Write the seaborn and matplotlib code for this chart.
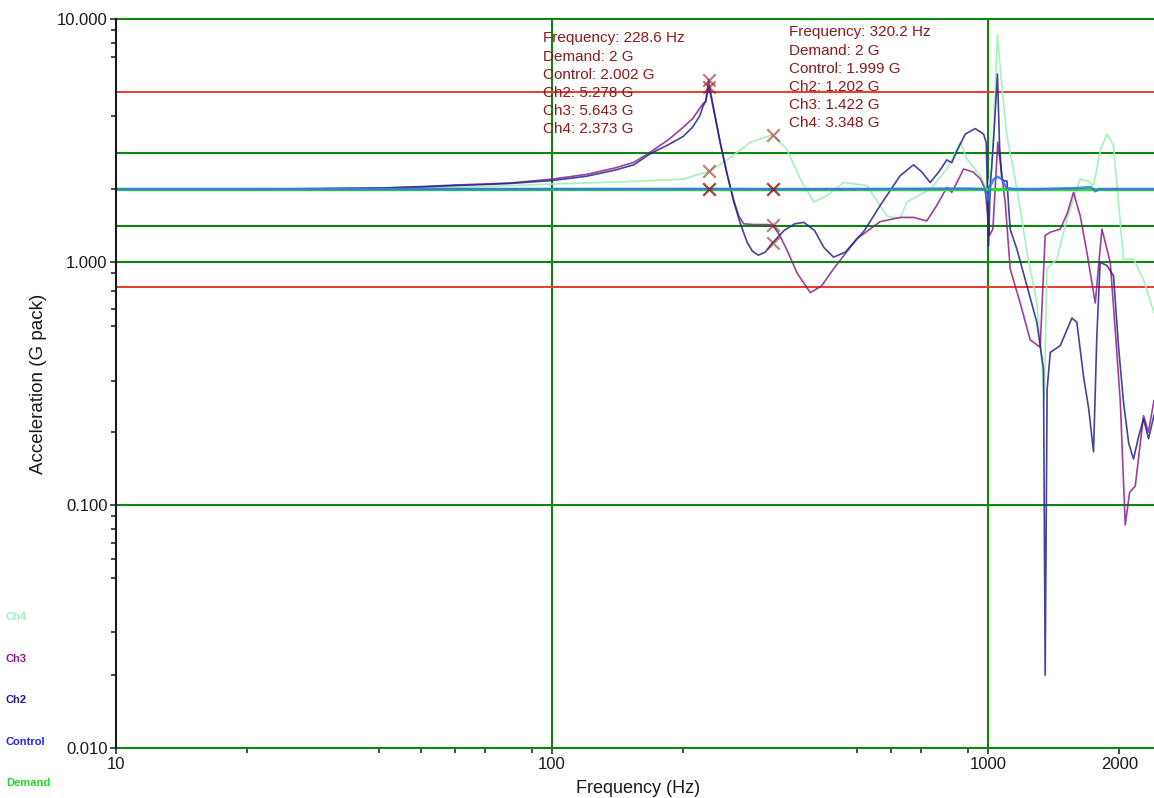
import matplotlib
matplotlib.use("Agg")
import matplotlib.pyplot as plt
import seaborn as sns
from matplotlib.ticker import FixedLocator, FixedFormatter, NullFormatter

# ---- sine sweep response: frequency (Hz) vs acceleration (G pack) ----
demand_freq = [10, 2400]
demand_g = [2.0, 2.0]

control_freq = [10, 100, 228.6, 320.2, 500, 900, 980, 995, 1002, 1010, 1030, 1050,
                1075, 1100, 1150, 1300, 1600, 1720, 1760, 1800, 2400]
control_g = [2.0, 2.0, 2.002, 1.999, 2.0, 2.01, 2.0, 1.9, 1.8, 2.05, 2.2, 2.25,
             2.2, 2.02, 2.0, 2.0, 2.02, 2.04, 1.96, 2.0, 2.0]

ch2_freq = [10, 20, 30, 40, 50, 60, 70, 80, 100, 120, 140, 154, 168, 185, 200, 210,
            218, 222, 225, 228.6, 232, 237, 243, 252, 261, 270, 280, 288, 297, 308,
            320.2, 340, 360, 378, 400, 420, 442, 470, 520, 565, 628, 674, 705, 736,
            770, 804, 825, 850, 886, 934, 976, 990, 1002, 1010, 1030, 1050, 1062,
            1075, 1090, 1104, 1123, 1164, 1227, 1293, 1339, 1351, 1365, 1388, 1463,
            1556, 1597, 1654, 1700, 1744, 1775, 1806, 1872, 1938, 1990, 2043, 2100,
            2154, 2210, 2271, 2332, 2400]
ch2_g = [2.0, 2.0, 2.01, 2.02, 2.04, 2.07, 2.09, 2.11, 2.17, 2.26, 2.4, 2.52, 2.8,
         3.05, 3.3, 3.6, 4.0, 4.4, 4.6, 5.278, 4.7, 3.9, 3.1, 2.3, 1.77, 1.45, 1.21,
         1.11, 1.07, 1.1, 1.202, 1.35, 1.44, 1.46, 1.35, 1.15, 1.05, 1.1, 1.35, 1.71,
         2.27, 2.52, 2.35, 2.13, 2.35, 2.64, 2.57, 2.9, 3.37, 3.55, 3.37, 3.1, 1.17,
         2.0, 3.3, 5.96, 3.0, 2.2, 2.16, 2.16, 1.37, 1.13, 0.80, 0.566, 0.364, 0.02,
         0.3, 0.426, 0.454, 0.59, 0.566, 0.34, 0.25, 0.166, 0.5, 1.0, 0.97, 0.88,
         0.45, 0.266, 0.18, 0.155, 0.19, 0.227, 0.188, 0.235]

ch3_freq = [10, 20, 30, 40, 50, 60, 70, 80, 100, 120, 140, 154, 168, 185, 200, 210,
            218, 222, 225, 228.6, 232, 237, 243, 252, 261, 268, 275, 290, 311, 320.2,
            332, 345, 365, 391, 415, 442, 500, 565, 628, 674, 723, 760, 804, 825, 850,
            878, 925, 960, 984, 1007, 1025, 1052, 1075, 1094, 1123, 1184, 1248, 1316,
            1351, 1388, 1463, 1520, 1569, 1626, 1684, 1760, 1823, 1905, 1960, 2009,
            2062, 2110, 2174, 2271, 2330, 2400]
ch3_g = [2.0, 2.0, 2.01, 2.02, 2.05, 2.08, 2.1, 2.12, 2.2, 2.3, 2.45, 2.58, 2.84,
         3.2, 3.6, 3.9, 4.3, 4.5, 4.6, 5.643, 4.8, 3.9, 3.1, 2.3, 1.8, 1.55, 1.44,
         1.43, 1.43, 1.422, 1.3, 1.13, 0.9, 0.75, 0.8, 0.94, 1.25, 1.47, 1.53, 1.53,
         1.48, 1.7, 2.03, 1.94, 2.15, 2.42, 2.35, 2.2, 2.0, 1.29, 1.37, 3.12, 2.27,
         1.77, 0.94, 0.68, 0.48, 0.447, 1.29, 1.33, 1.37, 1.6, 1.94, 1.55, 1.10,
         0.68, 1.37, 1.0, 0.5, 0.266, 0.083, 0.113, 0.12, 0.234, 0.2, 0.27]

ch4_freq = [10, 30, 50, 70, 100, 130, 160, 200, 226, 228.6, 245, 260, 285, 320.2,
            345, 371, 398, 427, 466, 527, 586, 628, 651, 736, 804, 863, 894, 959, 993,
            1020, 1050, 1075, 1104, 1143, 1184, 1227, 1293, 1333, 1345, 1363, 1437,
            1515, 1626, 1700, 1744, 1810, 1872, 1938, 2043, 2154, 2271, 2400]
ch4_g = [2.0, 2.01, 2.02, 2.05, 2.1, 2.13, 2.16, 2.2, 2.35, 2.373, 2.55, 2.75, 3.12,
         3.348, 2.93, 2.2, 1.77, 1.88, 2.13, 2.07, 1.55, 1.51, 1.77, 2.0, 2.42, 3.12,
         2.66, 2.27, 2.0, 2.42, 8.6, 5.3, 3.3, 2.4, 1.66, 1.1, 0.68, 0.35, 0.27, 0.94,
         1.03, 1.51, 2.2, 2.15, 2.07, 2.9, 3.37, 3.02, 1.03, 1.03, 0.85, 0.62]

# cursor read-outs
cursor_freq = [228.6, 320.2]
cursor_demand = [2.0, 2.0]
cursor_control = [2.002, 1.999]
cursor_ch2 = [5.278, 1.202]
cursor_ch3 = [5.643, 1.422]
cursor_ch4 = [2.373, 3.348]

# tolerance bands around the 2 G demand
alarm_limits = [2.825, 1.416]
abort_limits = [5.04, 0.794]

x_major = [10, 100, 1000, 2000]
x_major_labels = ["10", "100", "1000", "2000"]
x_minor = [20, 40, 50, 60, 70, 90, 200, 500, 600, 700, 900]
y_major = [0.01, 0.1, 1, 10]
y_major_labels = ["0.010", "0.100", "1.000", "10.000"]
y_minor = [0.02, 0.03, 0.05, 0.06, 0.07, 0.08, 0.09,
           0.2, 0.326, 0.545, 0.645, 0.765, 0.9,
           2, 4, 7, 8, 9]

series_names = ["Ch4", "Ch3", "Ch2", "Control", "Demand"]
series_colors = {"Ch4": "#9ef0b6", "Ch3": "#8a1f8a", "Ch2": "#23238c",
                 "Control": "#3070ee", "Demand": "#30e030"}
legend_colors = {"Ch4": "#a3efbf", "Ch3": "#8b1c8b", "Ch2": "#1c1c8c",
                 "Control": "#2323ff", "Demand": "#22dd22"}

GRID_GREEN = "#0c860c"
LIMIT_RED = "#ec3a2e"
CURSOR_RED = "#8b1a1a"

sns.set_theme(style="white")
plt.rcParams["font.family"] = ["Liberation Sans", "DejaVu Sans"]

fig = plt.figure(figsize=(11.54, 7.98), dpi=100)
ax = fig.add_axes([116 / 1154, 1 - 748.3 / 798, 1038 / 1154, 729 / 798])
ax.set_xscale("log")
ax.set_yscale("log")
ax.set_xlim(10, 2400)
ax.set_ylim(0.01, 10)

# grid and limit lines
for yv in y_major:
    ax.axhline(yv, color=GRID_GREEN, lw=1.5, zorder=1, clip_on=False)
for xv in [100, 1000]:
    ax.axvline(xv, color=GRID_GREEN, lw=1.5, zorder=1)
for yv in alarm_limits:
    ax.axhline(yv, color=GRID_GREEN, lw=1.5, zorder=1)
for yv in abort_limits:
    ax.axhline(yv, color=LIMIT_RED, lw=1.4, zorder=1)

# response curves
curves = [
    ("Ch4", ch4_freq, ch4_g, 1.2, 0.9),
    ("Ch3", ch3_freq, ch3_g, 1.2, 0.85),
    ("Ch2", ch2_freq, ch2_g, 1.2, 0.85),
    ("Demand", demand_freq, demand_g, 2.4, 1.0),
    ("Control", control_freq, control_g, 1.9, 0.8),
]
for name, fx, gy, lw, al in curves:
    sns.lineplot(x=fx, y=gy, ax=ax, color=series_colors[name], lw=lw, alpha=al,
                 estimator=None, sort=False, legend=False, zorder=3)

# cursor markers
for vals in [cursor_demand, cursor_control, cursor_ch2, cursor_ch3, cursor_ch4]:
    sns.scatterplot(x=cursor_freq, y=vals, ax=ax, marker="x", s=80, color=CURSOR_RED,
                    alpha=0.55, linewidth=1.6, legend=False, zorder=5)

# cursor read-out text
text_pos = [(0.4114, 0.9833), (0.6484, 0.9915)]
for i, (tx, ty) in enumerate(text_pos):
    lines = [f"Frequency: {cursor_freq[i]:.1f} Hz",
             f"Demand: {cursor_demand[i]:g} G",
             f"Control: {cursor_control[i]:.3f} G",
             f"Ch2: {cursor_ch2[i]:.3f} G",
             f"Ch3: {cursor_ch3[i]:.3f} G",
             f"Ch4: {cursor_ch4[i]:.3f} G"]
    ax.text(tx, ty, "\n".join(lines), transform=ax.transAxes, ha="left", va="top",
            color=CURSOR_RED, fontsize=11, linespacing=1.37,
            family=["Liberation Sans", "DejaVu Sans"], zorder=6)

# axes styling
for side in ["top", "right", "bottom"]:
    ax.spines[side].set_visible(False)
ax.spines["left"].set_color("#1a1a1a")
ax.spines["left"].set_linewidth(1.5)
ax.spines["left"].set_zorder(4)

ax.xaxis.set_major_locator(FixedLocator(x_major))
ax.xaxis.set_major_formatter(FixedFormatter(x_major_labels))
ax.xaxis.set_minor_locator(FixedLocator(x_minor))
ax.xaxis.set_minor_formatter(NullFormatter())
ax.yaxis.set_major_locator(FixedLocator(y_major))
ax.yaxis.set_major_formatter(FixedFormatter(y_major_labels))
ax.yaxis.set_minor_locator(FixedLocator(y_minor))
ax.yaxis.set_minor_formatter(NullFormatter())

ax.tick_params(which="both", direction="out", color="#1a1a1a", width=1.1,
               labelsize=12, labelcolor="#1a1a1a", bottom=True, left=True)
ax.tick_params(which="major", length=4.5, pad=1.5)
ax.tick_params(which="minor", length=3.8)

ax.set_xlabel("Frequency (Hz)", fontsize=13, color="#1a1a1a")
ax.set_ylabel("Acceleration (G pack)", fontsize=13.5, color="#1a1a1a")
ax.xaxis.label.set_va("center")
ax.yaxis.label.set_va("center")
ax.xaxis.set_label_coords(0.503, -0.0545)
ax.yaxis.set_label_coords(-0.0751, 0.5)

# series key in the lower left corner
legend_y = [617, 659, 700, 742, 783]
for name, py in zip(series_names, legend_y):
    fig.text(6 / 1154, 1 - py / 798, name, color=legend_colors[name], fontsize=8,
             fontweight="bold", ha="left", va="center")

fig.savefig("out.png", dpi=100)
